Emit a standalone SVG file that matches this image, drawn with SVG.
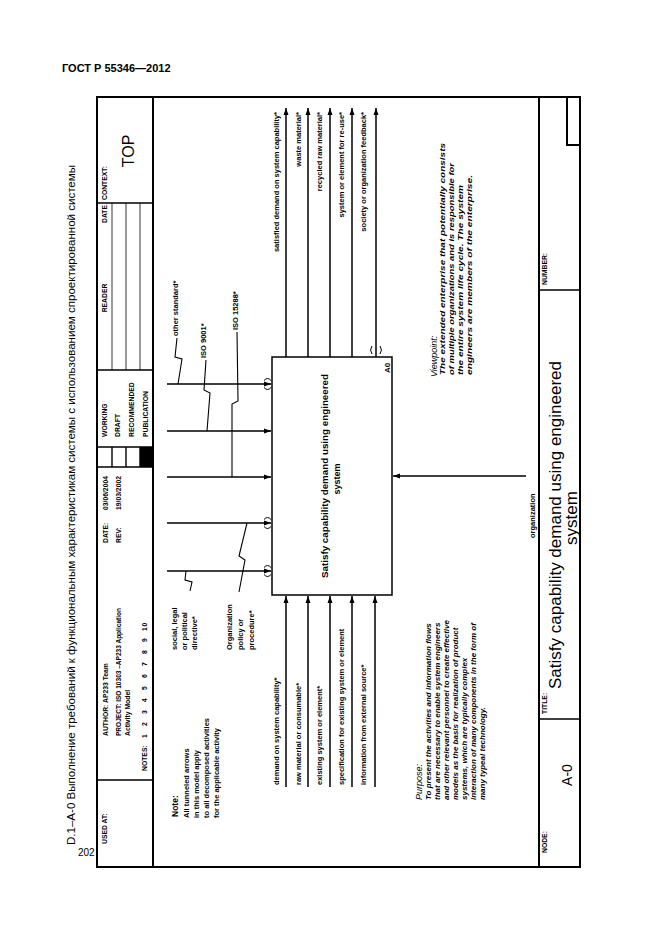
<svg xmlns="http://www.w3.org/2000/svg" width="661" height="935" viewBox="0 0 661 935">
<defs>
<marker id="ah" markerUnits="userSpaceOnUse" markerWidth="7" markerHeight="6" refX="7" refY="3" orient="auto" viewBox="0 0 7 6"><path d="M0,0.5 L7,3 L0,5.5 z" fill="#000"/></marker>
</defs>
<style>
text{font-family:"Liberation Sans",Arial,sans-serif;fill:#000}
.b{font-weight:bold}
.h{font-size:6.8px;font-weight:bold}
.l{font-size:7.5px;font-weight:bold}
.i{font-size:8px;font-weight:bold;font-style:italic}
.fr{stroke:#000;stroke-width:2;fill:none}
.th{stroke:#000;stroke-width:1.4;fill:none}
.tn{stroke:#000;stroke-width:0.8;fill:none}
.ar{stroke:#000;stroke-width:1.5;fill:none;marker-end:url(#ah)}
.sq{stroke:#000;stroke-width:1.1;fill:none}
.tu{stroke:#000;stroke-width:1;fill:none}
</style>
<rect width="661" height="935" fill="#fff"/>

<g id="page">
<text x="62" y="72" class="b" font-size="11">ГОСТ Р 55346—2012</text>
<text transform="translate(75,845) rotate(-90)" font-size="11" textLength="680" lengthAdjust="spacingAndGlyphs">D.1–A-0 Выполнение требований к функциональным характеристикам системы с использованием спроектированной системы</text>
<text x="78" y="856" font-size="10">202</text>
</g>

<g id="form">
<rect x="97" y="97" width="483" height="770" class="fr"/>
<line x1="153" y1="97" x2="153" y2="867" class="fr"/>
<line x1="539" y1="97" x2="539" y2="867" class="fr"/>
<path d="M567,97 V145 H580" class="fr"/>
<path d="M97,203 H153 M97,370 H153 M97,447 H153 M97,467 H153 M97,780 H153" class="th"/>
<path d="M112,203 V370 M126,203 V370 M140,203 V370" class="tn"/>
<path d="M112,447 V467 M126,447 V467 M140,447 V467" class="th"/>
<rect x="140" y="447" width="13" height="20" fill="#000"/>
<path d="M539,719 H580 M539,290 H580" class="th"/>
<g class="h">
<text transform="translate(107,844) rotate(-90)">USED AT:</text>
<text transform="translate(108,736) rotate(-90)">AUTHOR:  AP233 Team</text>
<text transform="translate(121,736) rotate(-90)" textLength="128" lengthAdjust="spacingAndGlyphs">PROJECT:  ISO 10303 –AP233 Application</text>
<text transform="translate(130,736) rotate(-90)">Activity Model</text>
<text transform="translate(147,771) rotate(-90)">NOTES:</text>
<text transform="translate(147,738) rotate(-90)" x="0 12 24 36 48 60 72 84 96 107 111.5">12345678910</text>
<text transform="translate(108,543) rotate(-90)">DATE:</text>
<text transform="translate(108,476) rotate(-90)" text-anchor="end">03/06/2004</text>
<text transform="translate(121,543) rotate(-90)">REV:</text>
<text transform="translate(121,476) rotate(-90)" text-anchor="end">19/03/2002</text>
<text transform="translate(107,437) rotate(-90)">WORKING</text>
<text transform="translate(120,437) rotate(-90)">DRAFT</text>
<text transform="translate(134,437) rotate(-90)">RECOMMENDED</text>
<text transform="translate(148,437) rotate(-90)">PUBLICATION</text>
<text transform="translate(107,298) rotate(-90)" text-anchor="middle">READER</text>
<text transform="translate(107,214) rotate(-90)" text-anchor="middle">DATE</text>
<text transform="translate(107,200) rotate(-90)">CONTEXT:</text>
<text transform="translate(547,853) rotate(-90)">NODE:</text>
<text transform="translate(547,714) rotate(-90)">TITLE:</text>
<text transform="translate(547,285) rotate(-90)">NUMBER:</text>
</g>
<text transform="translate(134,151) rotate(-90)" text-anchor="middle" font-size="16">TOP</text>
<text transform="translate(572,775) rotate(-90)" text-anchor="middle" font-size="14">A-0</text>
<text transform="translate(561,525) rotate(-90)" text-anchor="middle" font-size="17">Satisfy capability demand using engineered</text>
<text transform="translate(577,518) rotate(-90)" text-anchor="middle" font-size="17">system</text>
</g>

<g id="node-A0">
<rect x="272" y="357" width="120" height="238" fill="none" stroke="#000" stroke-width="1.5"/>
<text transform="translate(328,476) rotate(-90)" text-anchor="middle" class="b" font-size="9" textLength="204" lengthAdjust="spacingAndGlyphs">Satisfy capability demand using engineered</text>
<text transform="translate(340,479) rotate(-90)" text-anchor="middle" class="b" font-size="9">system</text>
<text transform="translate(390,373) rotate(-90)" class="b" font-size="8">A0</text>
</g>

<g id="connectors">
<path class="ar" d="M286,787 V596"/>
<path class="ar" d="M308,787 V596"/>
<path class="ar" d="M330,787 V596"/>
<path class="ar" d="M352,787 V596"/>
<path class="ar" d="M375,787 V596"/>
<path class="ar" d="M286,357 V108"/>
<path class="ar" d="M308,357 V108"/>
<path class="ar" d="M330,357 V108"/>
<path class="ar" d="M352,357 V108"/>
<path class="ar" d="M376,357 V108"/>
<path class="ar" d="M167,384 H271"/>
<path class="ar" d="M167,431 H271"/>
<path class="ar" d="M167,477 H271"/>
<path class="ar" d="M167,523 H271"/>
<path class="ar" d="M167,571 H271"/>
<path class="ar" d="M526,476 H393"/>
<path class="sq" d="M177,338 L175,357 L182,359 L178,384"/>
<path class="sq" d="M206,360 L204,390 L210,393 L207,431"/>
<path class="sq" d="M237,332 L238,401 L232,404 L232,477"/>
<path class="sq" d="M190,591 L192,582 L185,580 L186,571"/>
<path class="sq" d="M239,592 L245,560 L239,556 L247,523"/>
<path class="tu" d="M264,380.5 Q267.5,376.5 271,380.5 M264,387.5 Q267.5,391.5 271,387.5"/>
<path class="tu" d="M264,519.5 Q267.5,515.5 271,519.5 M264,526.5 Q267.5,530.5 271,526.5"/>
<path class="tu" d="M264,567.5 Q267.5,563.5 271,567.5 M264,574.5 Q267.5,578.5 271,574.5"/>
<path class="tu" d="M372,346 Q369,350 372,354 M380,346 Q383,350 380,354"/>
</g>

<g id="labels" class="l">
<text transform="translate(279,785) rotate(-90)">demand on system capability*</text>
<text transform="translate(301,785) rotate(-90)">raw material or consumable*</text>
<text transform="translate(322,785) rotate(-90)">existing system or element*</text>
<text transform="translate(344,785) rotate(-90)">specification for existing system or element</text>
<text transform="translate(366,785) rotate(-90)">information from external source*</text>
<text transform="translate(279,112) rotate(-90)" text-anchor="end">satisfied demand on system capability*</text>
<text transform="translate(301,112) rotate(-90)" text-anchor="end">waste material*</text>
<text transform="translate(322,112) rotate(-90)" text-anchor="end">recycled raw material*</text>
<text transform="translate(344,112) rotate(-90)" text-anchor="end">system or element for re-use*</text>
<text transform="translate(366,112) rotate(-90)" text-anchor="end">society or organization feedback*</text>
<text transform="translate(178,336) rotate(-90)">other standard*</text>
<text transform="translate(206,358) rotate(-90)">ISO 9001*</text>
<text transform="translate(238,330) rotate(-90)">ISO 15288*</text>
<text transform="translate(177,650) rotate(-90)">social, legal</text>
<text transform="translate(187,650) rotate(-90)">or political</text>
<text transform="translate(197,650) rotate(-90)">directive*</text>
<text transform="translate(232,650) rotate(-90)">Organization</text>
<text transform="translate(243,650) rotate(-90)">policy or</text>
<text transform="translate(254,650) rotate(-90)">procedure*</text>
<text transform="translate(535,538) rotate(-90)">organization</text>
</g>

<g id="notes">
<text transform="translate(178,817) rotate(-90)" class="b" font-size="8.5">Note:</text>
<g class="l">
<text transform="translate(189,818) rotate(-90)">All tunneled arrows</text>
<text transform="translate(199,818) rotate(-90)">in this model apply</text>
<text transform="translate(209,818) rotate(-90)">to all decomposed activities</text>
<text transform="translate(219,818) rotate(-90)">for the applicable activity</text>
</g>
<text transform="translate(422,800) rotate(-90)" font-style="italic" font-size="9">Purpose:</text>
<g class="i">
<text transform="translate(431,800) rotate(-90)">To present the activities and information flows</text>
<text transform="translate(440,800) rotate(-90)">that are necessary to enable system engineers</text>
<text transform="translate(449,800) rotate(-90)">and other relevant personnel to create effective</text>
<text transform="translate(458,800) rotate(-90)">models as the basis for realization of product</text>
<text transform="translate(467,800) rotate(-90)">systems, which are typically complex</text>
<text transform="translate(476,800) rotate(-90)">interaction of many components in the form of</text>
<text transform="translate(485,800) rotate(-90)">many typeal technology.</text>
</g>
<text transform="translate(437,377) rotate(-90)" font-style="italic" font-size="9">Viewpoint:</text>
<g class="i">
<text transform="translate(445,375) rotate(-90)" textLength="232" lengthAdjust="spacingAndGlyphs">The extended enterprise that potentially consists</text>
<text transform="translate(454,375) rotate(-90)" textLength="212" lengthAdjust="spacingAndGlyphs">of multiple organizations and is responsible for</text>
<text transform="translate(463,375) rotate(-90)" textLength="190" lengthAdjust="spacingAndGlyphs">the entire system life cycle. The system</text>
<text transform="translate(472,375) rotate(-90)" textLength="200" lengthAdjust="spacingAndGlyphs">engineers are members of the enterprise.</text>
</g>
</g>
</svg>
